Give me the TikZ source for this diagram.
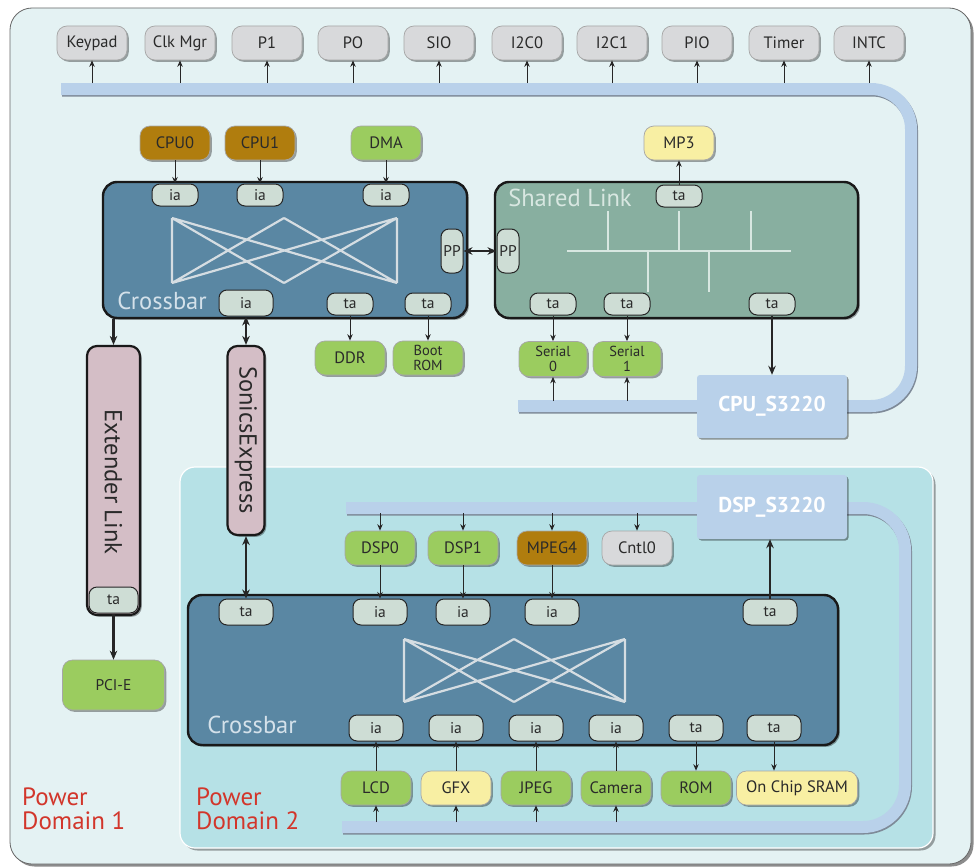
\documentclass[tikz,border=0pt]{standalone}
\usepackage{fontspec}
\setmainfont{PT Sans}
\usetikzlibrary{shadows,arrows.meta}
\definecolor{bgc}{HTML}{E4F2F3}
\definecolor{pdtwo}{HTML}{B6E1E6}
\definecolor{xbarc}{HTML}{5A87A3}
\definecolor{slc}{HTML}{88AFA0}
\definecolor{portc}{HTML}{CEDDD5}
\definecolor{pgray}{HTML}{D8D9DB}
\definecolor{pgreen}{HTML}{9BCC5F}
\definecolor{pgold}{HTML}{B07D0E}
\definecolor{pyellow}{HTML}{F8EFA3}
\definecolor{ppink}{HTML}{D4BEC6}
\definecolor{busc}{HTML}{B9D1EA}
\definecolor{busshd}{HTML}{7E8A98}
\definecolor{pdred}{HTML}{D2362B}
\definecolor{xlines}{HTML}{D5DDE2}
\definecolor{xlbl}{HTML}{D4E1EA}
\definecolor{sllbl}{HTML}{D8E7E1}
\definecolor{txt}{HTML}{2A2A2A}
\begin{document}
\begin{tikzpicture}[x=1pt,y=-1pt,
  shd/.style={drop shadow={shadow xshift=1.8pt,shadow yshift=-1.8pt,fill=black,opacity=0.35}},
  comp/.style={rounded corners=10pt,minimum width=70pt,minimum height=34pt,inner sep=1pt,draw=black!35,line width=0.7pt,text=txt,font=\fontsize{16.5}{14}\selectfont,align=center,shd},
  periph/.style={comp,fill=pgray},
  grn/.style={comp,fill=pgreen},
  gld/.style={comp,fill=pgold},
  ylw/.style={comp,fill=pyellow},
  twoline/.style={font=\fontsize{14.5}{15}\selectfont},
  port/.style={rounded corners=8pt,minimum width=46pt,minimum height=22pt,inner sep=0pt,fill=portc,draw=black!85,line width=1pt,text=txt,font=\fontsize{15.5}{15}\selectfont},
  bport/.style={port,minimum width=54pt,minimum height=26pt},
  xbarbox/.style={rounded corners=14pt,draw=black!90,line width=2.4pt,shd},
  linkbox/.style={rounded corners=10pt,draw=black!90,line width=2.2pt,fill=ppink,shd},
  sbox/.style={rounded corners=3pt,fill=busc,text=white,font=\bfseries\fontsize{21.5}{21}\selectfont,drop shadow={shadow xshift=1.5pt,shadow yshift=-1.5pt,fill=black,opacity=0.4}},
  biglbl/.style={font=\fontsize{24.5}{24}\selectfont,inner sep=0pt},
  pdlbl/.style={font=\fontsize{25}{24}\selectfont,text=pdred,align=left,inner sep=0pt,anchor=north west},
  arr/.style={-{Stealth[length=6.5pt,width=5.5pt]},line width=0.9pt,black!85},
  tarr/.style={-{Stealth[length=9pt,width=7.5pt]},line width=2.2pt,black!85},
  tdarr/.style={{Stealth[length=9pt,width=7.5pt]}-{Stealth[length=9pt,width=7.5pt]},line width=2.2pt,black!85},
  busline/.style={line width=12pt,busc},
  busshadow/.style={line width=12pt,busshd},
  xl/.style={line width=2.2pt,xlines},
  sl/.style={line width=2.5pt,sllbl}
]
\useasboundingbox (0,0) rectangle (979,867);
% outer frame: Power Domain 1
\path[fill=bgc,draw=black!60,line width=0.8pt,rounded corners=22pt,
  drop shadow={shadow xshift=2.5pt,shadow yshift=-2.5pt,fill=black,opacity=0.45}] (10,8) rectangle (971,864);
% Power Domain 2
\path[fill=pdtwo,draw=white,line width=1.2pt,rounded corners=15pt,
  drop shadow={shadow xshift=2.5pt,shadow yshift=-2.5pt,fill=black,opacity=0.35}] (180,467) rectangle (933,848);

% buses
\draw[busshadow,rounded corners=40pt,shift={(1,1.5)}] (61,89) -- (911,89) -- (911,406) -- (518,406);
\draw[busline,rounded corners=40pt] (61,89) -- (911,89) -- (911,406) -- (518,406);
\draw[busshadow,rounded corners=42pt,shift={(1,1.5)}] (346,508) -- (905,508) -- (905,827) -- (342,827);
\draw[busline,rounded corners=42pt] (346,508) -- (905,508) -- (905,827) -- (342,827);

% top peripherals
\foreach \x/\n/\t in {92/kp/Keypad,180/clk/Clk Mgr,267/pone/P1,353/po/PO,439/sio/SIO,527/iczero/I2C0,612/icone/I2C1,697/pio/PIO,784/tmr/Timer,869/intc/INTC}{
  \node[periph] (\n) at (\x,43) {\t};
  \coordinate (\n bus) at (\x,83);
  \draw[arr] (\n bus) -- (\n.south);
}

% Crossbar 1
\node[xbarbox,fill=xbarc,minimum width=364pt,minimum height=136pt] (cbone) at (285,250) {};
\draw[xl] (172,218) -- (172,283) (397,218) -- (397,283)
  (172,218) -- (284,283) (172,218) -- (397,283)
  (172,283) -- (284,218) (172,283) -- (397,218)
  (284,218) -- (397,283) (284,283) -- (397,218);
\node[biglbl,text=xlbl] (cbonelbl) at (162,301) {Crossbar};

% Shared link
\node[xbarbox,fill=slc,minimum width=363pt,minimum height=136pt] (shl) at (676.5,250) {};
\draw[sl] (567,251) -- (791,251)
  (608,211) -- (608,251) (679,211) -- (679,251) (751,211) -- (751,251)
  (648,251) -- (648,292) (709,251) -- (709,292);
\node[biglbl,text=sllbl] (shllbl) at (570,198) {Shared Link};

% initiators
\node[gld] (cpuz) at (175,143) {CPU0};
\node[gld] (cpuo) at (260,143) {CPU1};
\node[grn] (dma) at (386,143) {DMA};
\node[port] (iaa) at (175,195) {ia};
\node[port] (iab) at (260,195) {ia};
\node[port] (iac) at (386,195) {ia};
\draw[arr] (cpuz.south) -- (iaa.north);
\draw[arr] (cpuo.south) -- (iab.north);
\draw[arr] (dma.south) -- (iac.north);

% crossbar 1 bottom ports
\node[bport] (iad) at (246,303) {ia};
\node[port] (tda) at (350,304) {ta};
\node[port] (tdb) at (428,304) {ta};
\node[grn] (ddr) at (350,358) {DDR};
\node[grn,twoline] (brom) at (428,358) {Boot\\ROM};
\draw[arr] (tda.south) -- (ddr.north);
\draw[arr] (tdb.south) -- (brom.north);

% PP ports
\node[port,minimum width=22pt,minimum height=44pt] (ppa) at (452,251) {PP};
\node[port,minimum width=22pt,minimum height=44pt] (ppb) at (508,251) {PP};
\draw[tdarr] (ppa.east) -- (ppb.west);

% shared link ports
\node[port] (tsa) at (679,196) {ta};
\node[ylw] (mp) at (679,143) {MP3};
\draw[arr] (tsa.north) -- (mp.south);
\node[port] (tsb) at (553,304) {ta};
\node[port] (tsc) at (627,304) {ta};
\node[port] (tsd) at (772,304) {ta};
\node[grn,twoline,minimum width=68pt,minimum height=35pt] (sra) at (553,359) {Serial\\0};
\node[grn,twoline,minimum width=68pt,minimum height=35pt] (srb) at (627,359) {Serial\\1};
\draw[arr] (tsb.south) -- (sra.north);
\draw[arr] (tsc.south) -- (srb.north);
\coordinate (srabus) at (553,401);
\coordinate (srbbus) at (627,401);
\draw[arr] (srabus) -- (sra.south);
\draw[arr] (srbbus) -- (srb.south);

% CPU_S3220
\node[sbox,minimum width=150pt,minimum height=63pt] (cpus) at (772,406.5) {CPU\_S3220};
\draw[tarr] (tsd.south) -- (cpus.north);

% Extender Link
\node[linkbox,minimum width=53pt,minimum height=269pt] (ext) at (113.5,480.5) {};
\node[biglbl,rotate=-90,text=txt] (extlbl) at (113.5,482) {Extender Link};
\node[port,minimum width=49pt,minimum height=26pt] (tex) at (113.5,600) {ta};
\draw[tarr] (ext.north |- cbone.south) -- (ext.north);
\node[grn,minimum width=102pt,minimum height=50pt,font=\fontsize{15.5}{15}\selectfont] (pcie) at (113.5,685) {PCI-E};
\draw[tarr] (tex.south) -- (pcie.north);

% SonicsExpress
\node[linkbox,minimum width=37pt,minimum height=189pt] (sx) at (246,440.5) {};
\node[biglbl,rotate=-90,text=txt] (sxlbl) at (246,440) {SonicsExpress};
\draw[tdarr] (iad.south) -- (sx.north);

% Crossbar 2
\node[xbarbox,fill=xbarc,minimum width=650pt,minimum height=150pt] (cbtwo) at (513,670) {};
\draw[xl] (404,639) -- (404,702) (625,639) -- (625,702)
  (404,639) -- (514,702) (404,639) -- (625,702)
  (404,702) -- (514,639) (404,702) -- (625,639)
  (514,639) -- (625,702) (514,702) -- (625,639);
\node[biglbl,text=xlbl] (cbtwolbl) at (252,725) {Crossbar};

\node[bport] (tsx) at (246,612) {ta};
\draw[tdarr] (sx.south) -- (tsx.north);

% DSP side
\node[sbox,minimum width=150pt,minimum height=64pt] (dsps) at (772,507) {DSP\_S3220};
\node[grn] (dspz) at (380,548) {DSP0};
\node[grn] (dspo) at (463,548) {DSP1};
\node[gld] (mpg) at (552,548) {MPEG4};
\node[periph] (cntl) at (637,548) {Cntl0};
\foreach \n/\x in {dspz/380,dspo/463,mpg/552,cntl/637}{
  \coordinate (\n bus) at (\x,513);
  \draw[arr] (\n bus) -- (\n.north);
}
\node[bport] (iba) at (380,612) {ia};
\node[bport] (ibb) at (463,612) {ia};
\node[bport] (ibc) at (552,612) {ia};
\node[bport] (tdsp) at (770,612) {ta};
\draw[arr] (dspz.south) -- (iba.north);
\draw[arr] (dspo.south) -- (ibb.north);
\draw[arr] (mpg.south) -- (ibc.north);
\draw[tarr] (tdsp.north) -- (tdsp.north |- dsps.south);

% bottom row
\node[bport] (ica) at (376,728) {ia};
\node[bport] (icb) at (456,728) {ia};
\node[bport] (icc) at (536,728) {ia};
\node[bport] (icd) at (616,728) {ia};
\node[bport] (tce) at (696,728) {ta};
\node[bport] (tcf) at (774,728) {ta};
\node[grn] (lcd) at (376,788) {LCD};
\node[ylw] (gfx) at (456,788) {GFX};
\node[grn] (jpg) at (536,788) {JPEG};
\node[grn] (cam) at (616,788) {Camera};
\node[grn] (rom) at (696,788) {ROM};
\node[ylw,minimum width=121pt] (sram) at (797,788) {On Chip SRAM};
\draw[arr] (lcd.north) -- (ica.south);
\draw[arr] (gfx.north) -- (icb.south);
\draw[arr] (jpg.north) -- (icc.south);
\draw[arr] (cam.north) -- (icd.south);
\draw[arr] (tce.south) -- (rom.north);
\draw[arr] (tcf.south) -- (tcf.south |- sram.north);
\foreach \n/\x in {lcd/376,gfx/456,jpg/536,cam/616}{
  \coordinate (\n bus) at (\x,822);
  \draw[arr] (\n bus) -- (\n.south);
}

% power domain labels
\node[pdlbl] (pdone) at (22,788) {Power\\Domain 1};
\node[pdlbl] (pdtwolbl) at (196,788) {Power\\Domain 2};
\end{tikzpicture}
\end{document}
